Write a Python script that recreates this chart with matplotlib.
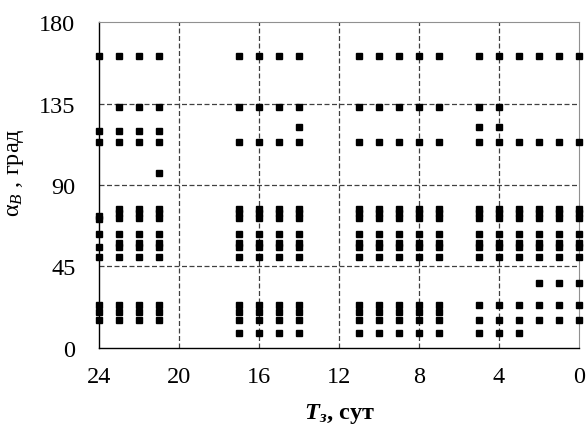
import matplotlib
matplotlib.use("Agg")
import matplotlib.pyplot as plt

# column groups of T_з (days)
g1 = [24, 23, 22, 21]
g2 = [17, 16, 15, 14]
g3 = [11, 10, 9, 8, 7]
g4 = [5, 4, 3, 2, 1, 0]
t_all = g1 + g2 + g3 + g4

# angle rows (deg) and the T values where a point sits on that row
row_angle = [161, 133, 122, 120, 114, 96.5,
             77, 74.5, 72, 73, 71.5, 63, 58, 56, 50,
             36, 24, 23.5, 20, 15.5, 8]
row_t = [t_all, g1[1:] + g2 + g3 + [5, 4], [14, 5, 4], g1, t_all, [21],
         t_all[1:], t_all[1:], t_all[1:], [24], [24], t_all, t_all[1:], t_all, t_all,
         [2, 1, 0], g1 + g2 + g3, g4, g1 + g2 + g3, t_all, g2 + g3 + [5, 4, 3]]

x_ticks = [24, 20, 16, 12, 8, 4, 0]
y_ticks = [0, 45, 90, 135, 180]

plt.rcParams['font.family'] = ['Liberation Serif', 'DejaVu Serif']
plt.rcParams['mathtext.fontset'] = 'custom'
plt.rcParams['mathtext.rm'] = 'Liberation Serif'
plt.rcParams['mathtext.it'] = 'Liberation Serif:italic'
plt.rcParams['mathtext.bf'] = 'Liberation Serif:bold'
plt.rcParams['mathtext.bfit'] = 'Liberation Serif:italic:bold'

fig = plt.figure(figsize=(5.87, 4.27), dpi=100)
ax = fig.add_axes([0.1687, 0.1827, 0.8177, 0.7634])

xs = []
ys = []
for a, ts in zip(row_angle, row_t):
    for t in ts:
        xs.append(t)
        ys.append(a)
ax.plot(xs, ys, 's', color='black', markersize=4.4, clip_on=False, zorder=3)

ax.set_xlim(24, 0)
ax.set_ylim(0, 180)
ax.set_xticks(x_ticks)
ax.set_yticks(y_ticks)
ax.tick_params(length=0, labelsize=17.5)
ax.tick_params(axis='x', pad=13)
ax.tick_params(axis='y', pad=17)

for v in [20, 16, 12, 8, 4]:
    ax.axvline(v, color='#404040', lw=0.9, ls=(0, (4, 2)), zorder=1)
for v in [45, 90, 135]:
    ax.axhline(v, color='#404040', lw=0.9, ls=(0, (4, 2)), zorder=1)

ax.spines['left'].set_color('black')
ax.spines['bottom'].set_color('black')
ax.spines['left'].set_linewidth(1.0)
ax.spines['bottom'].set_linewidth(1.0)
ax.spines['right'].set_color('#909090')
ax.spines['top'].set_color('#909090')
ax.spines['right'].set_linewidth(0.8)
ax.spines['top'].set_linewidth(0.8)

ax.set_xlabel(r'$\mathbfit{T}_{\mathbfit{з}}$, сут', fontsize=17.5, fontweight='bold', labelpad=10)
ax.set_ylabel(r'α$_{B}$ , град', fontsize=17.5)
ax.yaxis.set_label_coords(-0.152, 0.54)

fig.savefig('out.png', dpi=100)
